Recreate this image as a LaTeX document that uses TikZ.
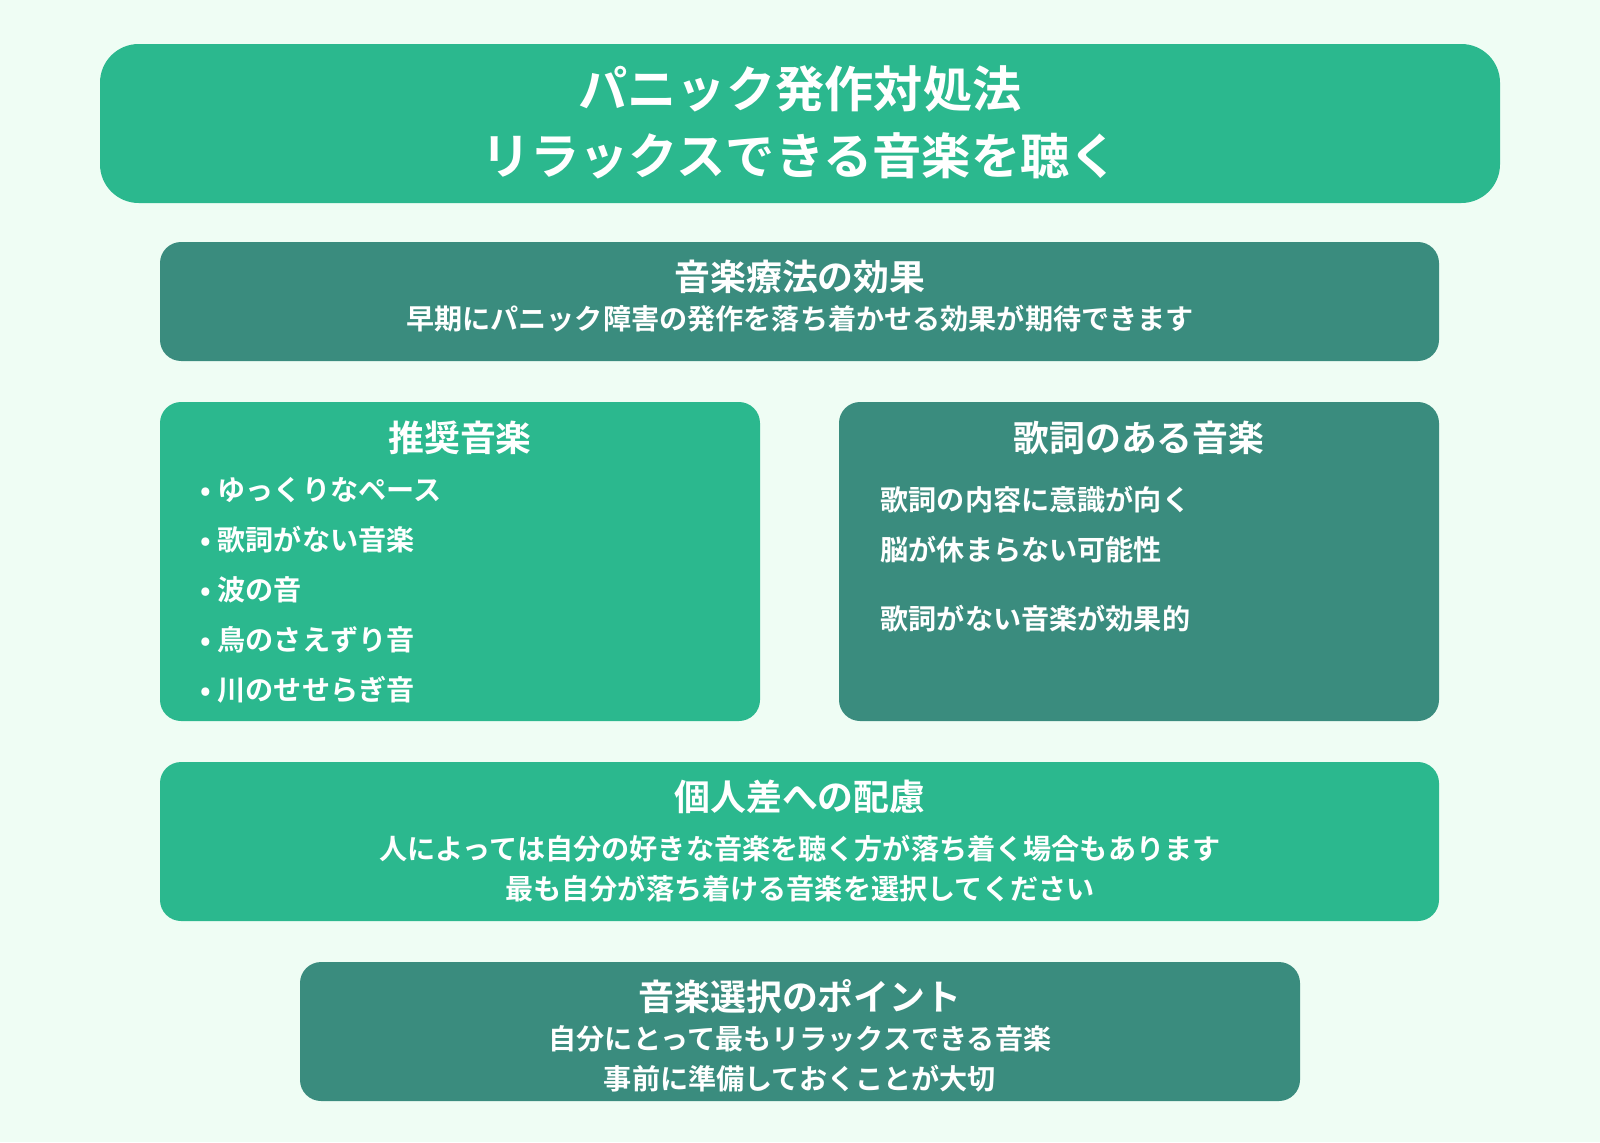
\documentclass[tikz,border=0pt]{standalone}
\usepackage{fontspec}
\setmainfont{Noto Sans CJK JP}[BoldFont={* Bold}]
\definecolor{pagebg}{HTML}{EFFDF4}
\definecolor{lightgreen}{HTML}{2BB88E}
\definecolor{darkgreen}{HTML}{3A8C7E}
\tikzset{
  panel/.style={rounded corners=6pt},
  titletext/.style={text=white, font=\bfseries\fontsize{14pt}{19pt}\selectfont, align=center},
  headtext/.style={text=white, font=\bfseries\fontsize{10.2pt}{12pt}\selectfont},
  bodytext/.style={text=white, font=\bfseries\fontsize{8pt}{11.4pt}\selectfont, align=center},
  itemtext/.style={text=white, font=\bfseries\fontsize{8pt}{10pt}\selectfont, anchor=west, inner sep=0pt}
}
\begin{document}
\begin{tikzpicture}[x=0.01cm, y=-0.01cm]
  \fill[pagebg] (0,0) rectangle (1600,1142);
  % title
  \fill[lightgreen, rounded corners=11pt] (100,44) rectangle (1500,203);
  \node[titletext] (title) at (800,122) {パニック発作対処法\\リラックスできる音楽を聴く};
  % effect
  \fill[darkgreen, panel] (160,242) rectangle (1439,361);
  \node[headtext] (effecthead) at (800,277) {音楽療法の効果};
  \node[bodytext] (effectbody) at (800,319) {早期にパニック障害の発作を落ち着かせる効果が期待できます};
  % recommended
  \fill[lightgreen, panel] (160,402) rectangle (760,721);
  \node[headtext] (rechead) at (460,438) {推奨音楽};
  \foreach \t [count=\i] in {ゆっくりなペース, 歌詞がない音楽, 波の音, 鳥のさえずり音, 川のせせらぎ音}
    \node[itemtext] (rec\i) at (200,440+50*\i) {• \t};
  % lyrics
  \fill[darkgreen, panel] (839,402) rectangle (1439,721);
  \node[headtext] (lyrhead) at (1139,438) {歌詞のある音楽};
  \node[itemtext] (lyr1) at (880,500) {歌詞の内容に意識が向く};
  \node[itemtext] (lyr2) at (880,550) {脳が休まらない可能性};
  \node[itemtext] (lyr3) at (880,619) {歌詞がない音楽が効果的};
  % individual
  \fill[lightgreen, panel] (160,762) rectangle (1439,921);
  \node[headtext] (indhead) at (800,797) {個人差への配慮};
  \node[bodytext] (indbody) at (800,869) {人によっては自分の好きな音楽を聴く方が落ち着く場合もあります\\最も自分が落ち着ける音楽を選択してください};
  % point
  \fill[darkgreen, panel] (300,962) rectangle (1300,1101);
  \node[headtext] (pointhead) at (800,997) {音楽選択のポイント};
  \node[bodytext] (pointbody) at (800,1059) {自分にとって最もリラックスできる音楽\\事前に準備しておくことが大切};
\end{tikzpicture}
\end{document}
